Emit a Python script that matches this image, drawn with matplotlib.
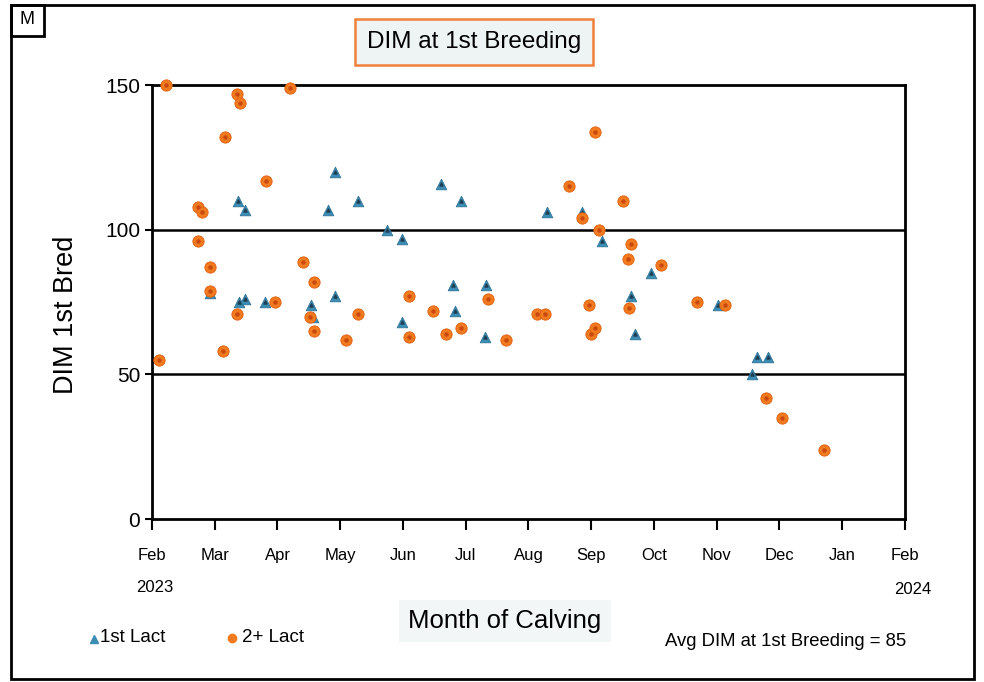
import matplotlib.pyplot as plt
from matplotlib.patches import Rectangle

plt.rcParams['font.family'] = ['Liberation Sans', 'DejaVu Sans']

# calving position in months after 1 Feb 2023, DIM at first breeding
first_month = [1.37, 1.48, 1.38, 1.49, 0.93, 1.80, 2.53, 2.57, 2.81, 2.91, 2.92,
               3.29, 3.74, 3.99, 3.99, 4.60, 4.79, 4.83, 4.92, 5.31, 5.33, 6.29,
               6.85, 7.18, 7.63, 7.70, 7.95, 9.02, 9.57, 9.64, 9.82]
first_dim = [110, 107, 75, 76, 78, 75, 74, 70, 107, 120, 77,
             110, 100, 97, 68, 116, 81, 72, 110, 63, 81, 106,
             106, 96, 77, 64, 85, 74, 50, 56, 56]

later_month = [0.11, 0.22, 0.74, 0.80, 0.74, 0.93, 0.93, 1.13, 1.16, 1.36, 1.41,
               1.35, 1.82, 1.96, 2.20, 2.40, 2.58, 2.52, 2.58, 3.10, 3.29, 4.10,
               4.10, 4.48, 4.69, 4.92, 5.36, 5.65, 6.13, 6.27, 6.64, 6.85, 6.96,
               6.99, 7.06, 7.06, 7.12, 7.50, 7.59, 7.63, 7.60, 8.11, 8.69, 9.13,
               9.78, 10.04, 10.71]
later_dim = [55, 150, 108, 106, 96, 87, 79, 58, 132, 147, 144,
             71, 117, 75, 149, 89, 82, 70, 65, 62, 71, 77,
             63, 72, 64, 66, 76, 62, 71, 71, 115, 104, 74,
             64, 66, 134, 100, 110, 90, 95, 73, 88, 75, 74,
             42, 35, 24]

month_labels = ['Feb', 'Mar', 'Apr', 'May', 'Jun', 'Jul', 'Aug', 'Sep',
                'Oct', 'Nov', 'Dec', 'Jan', 'Feb']
avg_dim = 85

ORANGE = '#F27A1F'
BLUE = '#3B8DB3'

fig = plt.figure(figsize=(9.84, 6.82), dpi=100)
ax = fig.add_axes([0.1545, 0.239, 0.765, 0.636])

ax.scatter(first_month, first_dim, marker='^', s=58, color=BLUE,
           edgecolors='#2F7296', linewidths=0.6, zorder=3, clip_on=False)
ax.scatter(first_month, first_dim, marker='^', s=5, color='#1F3F55', zorder=3,
           clip_on=False)
ax.scatter(later_month, later_dim, marker='o', s=66, color=ORANGE,
           edgecolors='#E0600F', linewidths=0.6, zorder=4, clip_on=False)
ax.scatter(later_month, later_dim, marker='o', s=5, color='#C84A10', zorder=4,
           clip_on=False)

for v in (50, 100):
    ax.axhline(v, color='black', lw=1.8, zorder=2)

ax.set_xlim(0, 12)
ax.set_ylim(0, 150)
ax.set_yticks([0, 50, 100, 150])
ax.set_xticks(range(13))
ax.set_xticklabels(month_labels)
ax.tick_params(axis='y', labelsize=15, length=5, width=1.5, direction='out')
ax.tick_params(axis='x', labelsize=12, length=8, width=1.5, direction='out', pad=13)
for s in ax.spines.values():
    s.set_linewidth(2)

fig.text(66 / 984, 1 - 315 / 682, 'DIM 1st Bred', fontsize=19.5, rotation=90,
         ha='center', va='center')

# year labels under the first and last month
fig.text(155 / 984, 1 - 588 / 682, '2023', fontsize=12, ha='center', va='center')
fig.text(913 / 984, 1 - 589 / 682, '2024', fontsize=12, ha='center', va='center')

# title box
fig.text(474 / 984, 1 - 42 / 682, 'DIM at 1st Breeding', fontsize=17.5,
         ha='center', va='center',
         bbox=dict(boxstyle='square,pad=0.5', facecolor='#EEF3F3',
                   edgecolor='#F0803C', linewidth=1.8))

# x axis title
fig.text(505 / 984, 1 - 621 / 682, 'Month of Calving', fontsize=18.5,
         ha='center', va='center',
         bbox=dict(boxstyle='square,pad=0.35', facecolor='#F3F6F6', edgecolor='none'))

fig.text(665 / 984, 1 - 641 / 682, f'Avg DIM at 1st Breeding = {avg_dim}',
         fontsize=13.3, ha='left', va='center')

# legend
fig.text(100 / 984, 1 - 638 / 682, '1st Lact', fontsize=13.5, ha='left', va='center')
fig.text(242 / 984, 1 - 638 / 682, '2+ Lact', fontsize=13.5, ha='left', va='center')
fig.lines.append(plt.Line2D([94 / 984], [1 - 639 / 682], marker='^', markersize=6,
                            color=BLUE, transform=fig.transFigure))
fig.lines.append(plt.Line2D([232 / 984], [1 - 638 / 682], marker='o', markersize=6,
                            color=ORANGE, transform=fig.transFigure))

# outer frame and corner label
fig.patches.append(Rectangle((11 / 984, 1 - 679 / 682), 963 / 984, 674 / 682,
                             transform=fig.transFigure, fill=False,
                             edgecolor='black', linewidth=2))
fig.patches.append(Rectangle((11 / 984, 1 - 36 / 682), 33 / 984, 31 / 682,
                             transform=fig.transFigure, fill=False,
                             edgecolor='black', linewidth=2))
fig.text(27 / 984, 1 - 19 / 682, 'M', fontsize=13, ha='center', va='center')

fig.savefig('out.png', dpi=100)
